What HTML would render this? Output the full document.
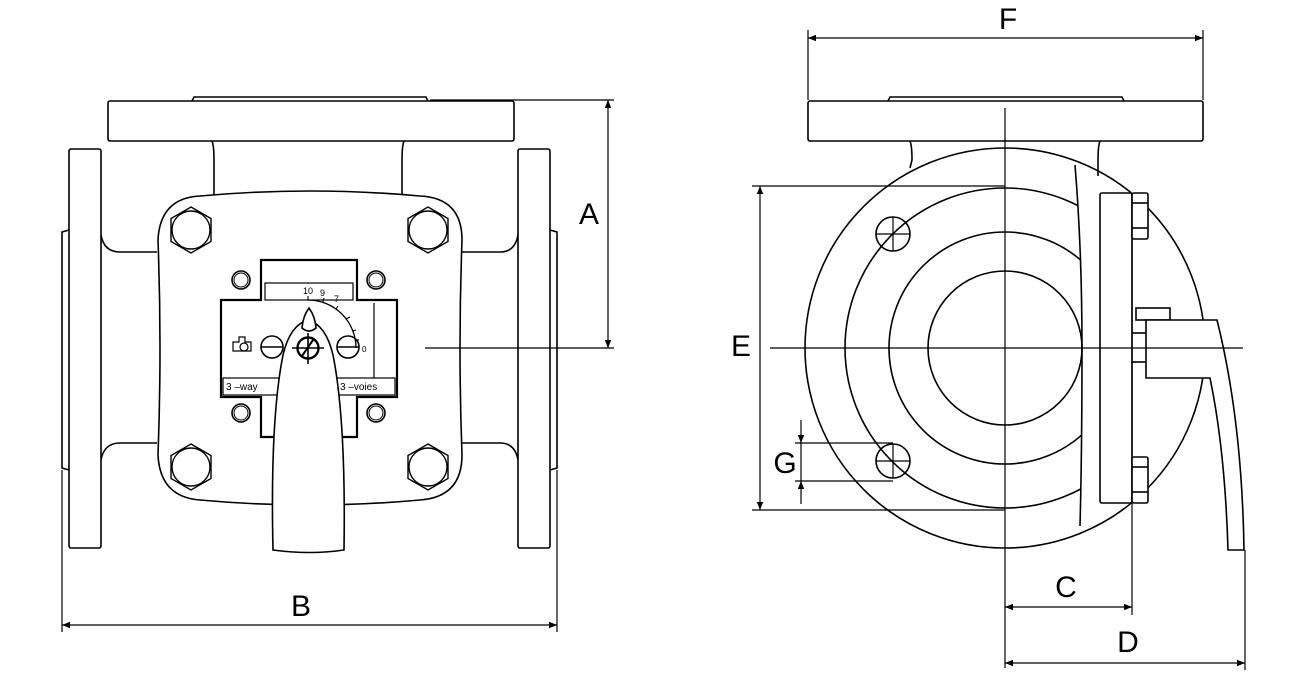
<!DOCTYPE html>
<html><head><meta charset="utf-8"><style>
html,body{margin:0;padding:0;background:#fff;}
svg{display:block;}
text{font-family:"Liberation Sans",sans-serif;}
</style></head><body>
<svg width="1304" height="684" viewBox="0 0 1304 684" xmlns="http://www.w3.org/2000/svg">
<defs>
<marker id="ar" viewBox="0 0 10 10" refX="10" refY="5" markerWidth="12" markerHeight="8" orient="auto-start-reverse" markerUnits="userSpaceOnUse"><path d="M0,1 L10,5 L0,9 Z" fill="#000"/></marker>
<clipPath id="cut"><path d="M0,0 L1075,0 L1075,165 Q1082,250 1082,348 Q1082,450 1080,526 L1080,684 L0,684 Z"/></clipPath>
</defs>
<g fill="none" stroke="#000" stroke-width="1.6">
<!-- LEFT VIEW -->
<path d="M212,141 Q214,146 214,160 L214,195"/>
<path d="M404,141 Q402,146 402,160 L402,195"/>
<path d="M101,235 Q104,252 120,252 L157,252"/>
<path d="M518,235 Q515,252 500,252 L462,252"/>
<path d="M101,460 Q104,443 120,443 L157,443"/>
<path d="M518,460 Q515,443 500,443 L462,443"/>
<rect x="108" y="101" width="406" height="40" rx="2" fill="#fff"/>
<path d="M192,101 L194,97 L426,97 L428,101"/>
<rect x="69" y="149" width="32" height="399" rx="2" fill="#fff"/>
<path d="M69,230 L62,232 L62,468 L69,470"/>
<rect x="518" y="149" width="32" height="399" rx="2" fill="#fff"/>
<path d="M550,230 L557,232 L557,468 L550,470"/>
<path d="M200,196 Q310,186 420,196 Q462,198 462,240 Q458,348 462,455 Q462,497 420,500 Q310,510 200,500 Q160,497 158,455 Q162,348 158,240 Q160,198 200,196 Z" fill="#fff"/>
<g stroke-width="1.4">
<g transform="translate(191,230)"><polygon points="0,-23 20,-11.5 20,11.5 0,23 -20,11.5 -20,-11.5"/><circle r="19"/></g>
<g transform="translate(428,230)"><polygon points="0,-23 20,-11.5 20,11.5 0,23 -20,11.5 -20,-11.5"/><circle r="19"/></g>
<g transform="translate(191,467)"><polygon points="0,-23 20,-11.5 20,11.5 0,23 -20,11.5 -20,-11.5"/><circle r="19"/></g>
<g transform="translate(428,467)"><polygon points="0,-23 20,-11.5 20,11.5 0,23 -20,11.5 -20,-11.5"/><circle r="19"/></g>
</g>
<circle cx="241" cy="280" r="9"/><circle cx="241" cy="280" r="7" stroke-width="1"/>
<circle cx="376" cy="280" r="9"/><circle cx="376" cy="280" r="7" stroke-width="1"/>
<circle cx="241" cy="413" r="9"/><circle cx="241" cy="413" r="7" stroke-width="1"/>
<circle cx="376" cy="413" r="9"/><circle cx="376" cy="413" r="7" stroke-width="1"/>
<path d="M261,260 L357,260 L357,300 L397,300 L397,397 L357,397 L357,437 L261,437 L261,397 L221,397 L221,300 L261,300 Z" stroke-width="2.2" fill="#fff"/>
<rect x="265" y="283" width="88" height="17" stroke-width="1.2"/>
<line x1="374" y1="303" x2="374" y2="378" stroke-width="1.2"/>
<rect x="223" y="378" width="172" height="17" stroke-width="1.2"/>
<!-- dial arc -->
<path d="M308,300 A48,48 0 0 1 356,348" stroke-width="1.3"/>
<g stroke-width="1.1">
<line x1="308" y1="300" x2="308" y2="296"/>
<line x1="323" y1="302" x2="324" y2="298"/>
<line x1="336" y1="309" x2="338" y2="306"/>
<line x1="346" y1="319" x2="350" y2="317"/>
<line x1="352" y1="331" x2="356" y2="330"/>
<line x1="355" y1="340" x2="359" y2="340"/>
</g>
<circle cx="272" cy="347" r="11"/><line x1="261" y1="347" x2="283" y2="347"/>
<circle cx="348" cy="347" r="11"/><line x1="337" y1="347" x2="359" y2="347"/>
<path d="M233,342 h6 v-5 h6 v5 h6 v9 h-18 Z" stroke-width="1.2"/><circle cx="244" cy="347" r="4" stroke-width="1.2"/>
<path d="M273,550 Q270,420 283,355 Q290,325 308,320 Q326,325 333,355 Q346,420 344,550 Q310,555 273,550 Z" fill="#fff"/>
<path d="M302,328 Q303,316 309,308 Q315,316 316,328 Q309,334 302,328 Z" fill="#fff"/>
<circle cx="308" cy="348" r="10.5" stroke-width="2.4"/>
<line x1="292" y1="348" x2="324" y2="348"/><line x1="308" y1="333" x2="308" y2="364"/>
<line x1="302" y1="356" x2="313" y2="340" stroke-width="2"/>
<g stroke-width="1.2">
<line x1="425" y1="348" x2="614" y2="348"/>
<line x1="430" y1="100" x2="614" y2="100"/>
<line x1="608" y1="100" x2="608" y2="348" marker-start="url(#ar)" marker-end="url(#ar)"/>
<line x1="62" y1="470" x2="62" y2="632"/>
<line x1="557" y1="470" x2="557" y2="632"/>
<line x1="62" y1="625" x2="557" y2="625" marker-start="url(#ar)" marker-end="url(#ar)"/>
</g>

<!-- RIGHT VIEW -->
<circle cx="1005" cy="348" r="200"/>
<g clip-path="url(#cut)">
<circle cx="1005" cy="348" r="160"/>
<circle cx="1005" cy="348" r="116"/>
</g>
<circle cx="1005" cy="348" r="77"/>
<circle cx="893" cy="234" r="17"/>
<circle cx="893" cy="461" r="17"/>
<path d="M910,141 Q912,146 912,160 L910,168"/>
<path d="M1100,141 Q1098,146 1098,160 L1098,176"/>
<path d="M1075,165 Q1082,250 1082,348 Q1082,450 1080,526"/>
<rect x="1100" y="193" width="32" height="310" rx="2" fill="#fff"/>
<line x1="1132" y1="193" x2="1132" y2="615" stroke-width="1.2"/>
<rect x="1132" y="193" width="16" height="46" rx="2" fill="#fff"/><line x1="1132" y1="203" x2="1148" y2="203"/><line x1="1132" y1="228" x2="1148" y2="228"/>
<rect x="1132" y="457" width="16" height="46" rx="2" fill="#fff"/><line x1="1132" y1="467" x2="1148" y2="467"/><line x1="1132" y1="492" x2="1148" y2="492"/>
<rect x="1136" y="308" width="34" height="12" fill="#fff"/>
<line x1="1132" y1="333" x2="1146" y2="333"/><line x1="1132" y1="362" x2="1146" y2="362"/>
<path d="M1146,320 L1217,320 Q1242,420 1244,550 L1228,550 Q1225,450 1210,378 L1146,378 Z" fill="#fff"/>
<rect x="808" y="101" width="395" height="40" rx="2" fill="#fff"/>
<path d="M888,101 L890,97 L1122,97 L1124,101"/>
<g stroke-width="1.2">
<line x1="1005" y1="108" x2="1005" y2="668"/>
<line x1="770" y1="348" x2="1243" y2="348"/>
<line x1="876" y1="234" x2="910" y2="234"/><line x1="893" y1="217" x2="893" y2="251"/>
<line x1="876" y1="461" x2="910" y2="461"/><line x1="893" y1="444" x2="893" y2="478"/>
<line x1="808" y1="30" x2="808" y2="100"/>
<line x1="1203" y1="30" x2="1203" y2="100"/>
<line x1="808" y1="38" x2="1203" y2="38" marker-start="url(#ar)" marker-end="url(#ar)"/>
<line x1="752" y1="186" x2="1005" y2="186"/>
<line x1="752" y1="510" x2="1005" y2="510"/>
<line x1="760" y1="186" x2="760" y2="510" marker-start="url(#ar)" marker-end="url(#ar)"/>
<line x1="795" y1="443" x2="893" y2="443"/>
<line x1="795" y1="481" x2="893" y2="481"/>
<line x1="801" y1="420" x2="801" y2="443" marker-end="url(#ar)"/>
<line x1="801" y1="504" x2="801" y2="481" marker-end="url(#ar)"/>
<line x1="801" y1="443" x2="801" y2="481"/>
<line x1="1005" y1="607" x2="1132" y2="607" marker-start="url(#ar)" marker-end="url(#ar)"/>
<line x1="1245" y1="550" x2="1245" y2="670"/>
<line x1="1005" y1="663" x2="1245" y2="663" marker-start="url(#ar)" marker-end="url(#ar)"/>
</g>
</g>
<g font-size="9" fill="#000">
<text x="303" y="294">10</text><text x="320" y="296">9</text><text x="334" y="302">7</text>
<text x="362" y="352" font-size="8">0</text>
<text x="226" y="390" font-size="10">3 –way</text>
<text x="340" y="390" font-size="10">3 –voies</text>
</g>
<g font-size="30" fill="#000" text-anchor="middle">
<text x="589" y="224">A</text>
<text x="301" y="616">B</text>
<text x="1008" y="29">F</text>
<text x="741" y="356">E</text>
<text x="785" y="473">G</text>
<text x="1066" y="597">C</text>
<text x="1128" y="652">D</text>
</g>
</svg>
</body></html>
